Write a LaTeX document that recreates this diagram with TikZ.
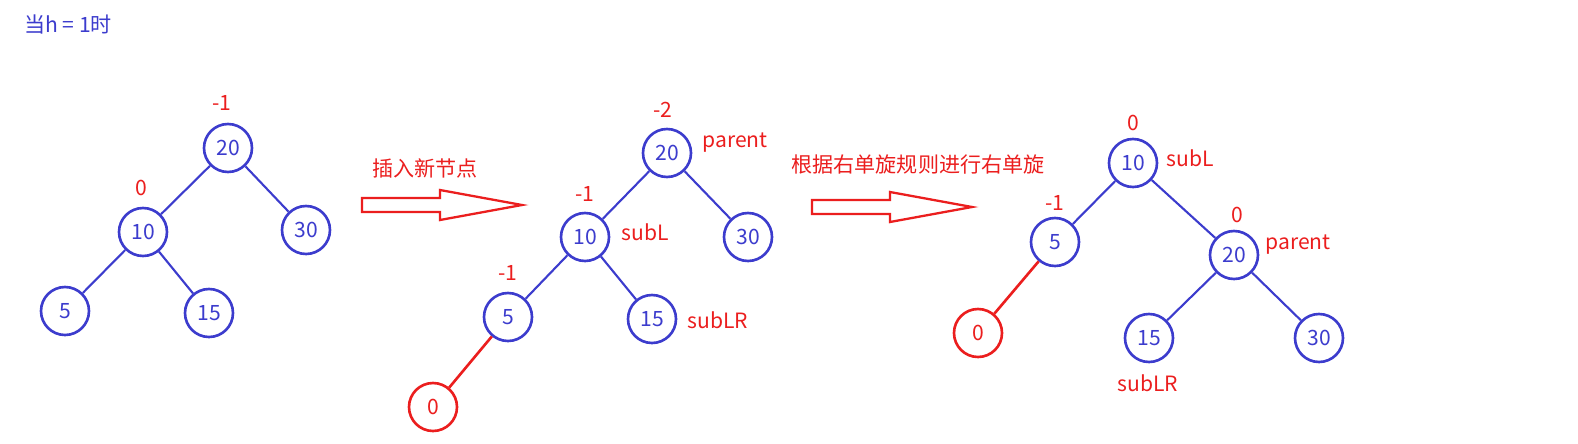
\documentclass[tikz,border=0pt]{standalone}
\usepackage{fontspec}
\setmainfont{Noto Sans CJK SC}
\begin{document}
\begin{tikzpicture}[x=0.02cm,y=-0.02cm,
  bl/.style={draw=blueC,line width=1.5pt,circle,minimum size=0.96cm,inner sep=0pt,text=blueC,font=\fontsize{12}{13}\selectfont},
  rd/.style={bl,draw=redC,text=redC},
  lab/.style={text=redC,font=\fontsize{12}{13}\selectfont,inner sep=0pt},
  ed/.style={draw=blueC,line width=1.2pt},
  red/.style={draw=redC,line width=1.5pt},
  harrow/.style={draw=redC,line width=1.3pt,fill=white}]
\definecolor{blueC}{RGB}{60,60,205}
\definecolor{redC}{RGB}{235,30,30}
\useasboundingbox (0,0) rectangle (1578,443);
\node[text=blueC,font=\fontsize{12}{13}\selectfont,inner sep=0pt] (title) at (68,24) {当h = 1时};
% tree 1
\node[bl] (a20) at (228,148) {20};
\node[bl] (a10) at (143,232) {10};
\node[bl] (a30) at (306,230) {30};
\node[bl] (a5) at (65,311) {5};
\node[bl] (a15) at (209,313) {15};
\draw[ed] (a20)--(a10) (a20)--(a30) (a10)--(a5) (a10)--(a15);
\node[lab] (la1) at (222,103) {-1};
\node[lab] (la2) at (141,188) {0};
% arrow 1
\draw[harrow] (362,198)--(440,198)--(440,190)--(522,205)--(440,220)--(440,212)--(362,212)--cycle;
\node[lab] (t1) at (425,168) {插入新节点};
% tree 2
\node[bl] (b20) at (667,153) {20};
\node[bl] (b10) at (585,237) {10};
\node[bl] (b30) at (748,237) {30};
\node[bl] (b5) at (508,317) {5};
\node[bl] (b15) at (652,319) {15};
\node[rd] (b0) at (433,407) {0};
\draw[ed] (b20)--(b10) (b20)--(b30) (b10)--(b5) (b10)--(b15);
\draw[red] (b5)--(b0);
\node[lab] at (663,110) {-2};
\node[lab] at (735,143) {parent};
\node[lab] at (585,194) {-1};
\node[lab] at (645,232) {subL};
\node[lab] at (508,273) {-1};
\node[lab] at (718,320) {subLR};
% arrow 2
\draw[harrow] (812,200)--(890,200)--(890,192)--(972,207)--(890,222)--(890,214)--(812,214)--cycle;
\node[lab] (t2) at (918,165) {根据右单旋规则进行右单旋};
% tree 3
\node[bl] (c10) at (1133,163) {10};
\node[bl] (c5) at (1055,242) {5};
\node[bl] (c20) at (1234,255) {20};
\node[rd] (c0) at (978,333) {0};
\node[bl] (c15) at (1149,338) {15};
\node[bl] (c30) at (1319,338) {30};
\draw[ed] (c10)--(c5) (c10)--(c20) (c20)--(c15) (c20)--(c30);
\draw[red] (c5)--(c0);
\node[lab] at (1133,123) {0};
\node[lab] at (1190,158) {subL};
\node[lab] at (1055,203) {-1};
\node[lab] at (1237,215) {0};
\node[lab] at (1298,245) {parent};
\node[lab] at (1148,383) {subLR};
\end{tikzpicture}
\end{document}
